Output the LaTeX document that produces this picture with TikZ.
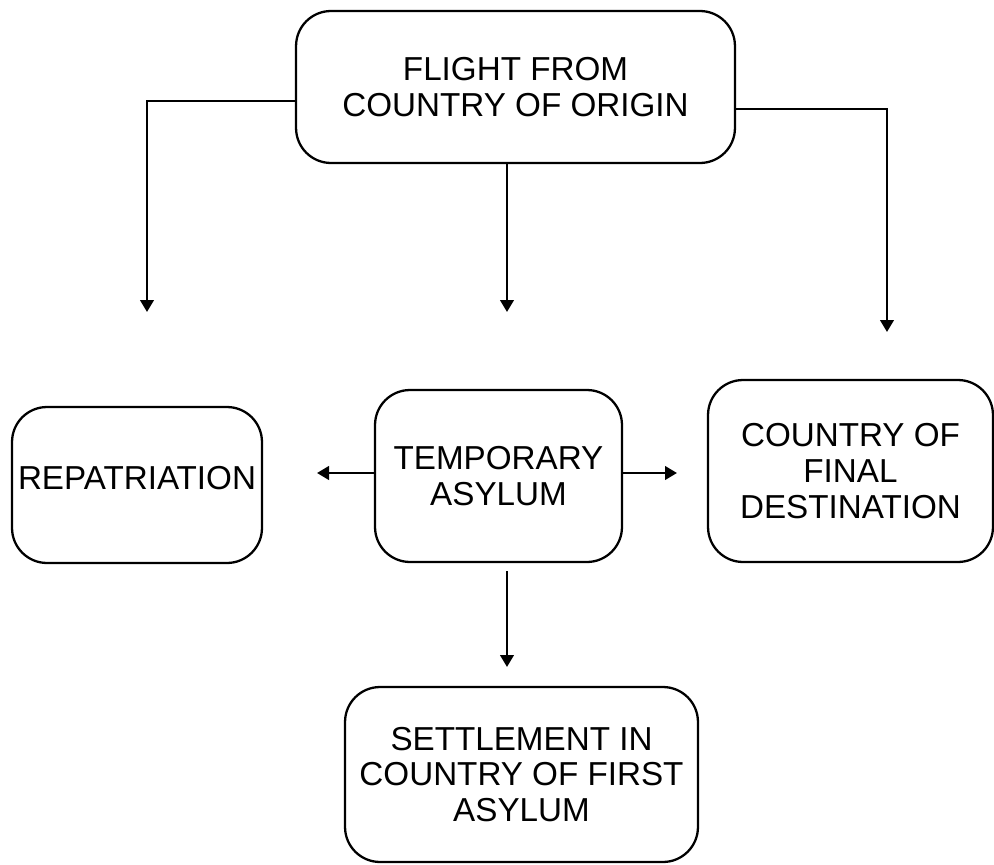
\documentclass[tikz,border=0pt]{standalone}
\usepackage{fontspec}
\setmainfont{Liberation Sans}
\usetikzlibrary{arrows.meta}

\begin{document}
\begin{tikzpicture}[x=0.02cm,y=-0.02cm,
    box/.style={draw, line width=1.3pt, rounded corners=0.7cm, align=center, inner sep=2pt,
        font=\fontsize{18.9}{20.3}\selectfont},
    arr/.style={line width=1.5pt, -{Triangle[length=0.24cm,width=0.27cm]}}]
    \useasboundingbox (0,0) rectangle (994,865);

    \node[box, minimum width=8.78cm, minimum height=3.04cm] (flight) at (515.5,87) {FLIGHT FROM\\COUNTRY OF ORIGIN};

    \node[box, minimum width=5cm, minimum height=3.12cm] (repat) at (137,485) {\raisebox{0.28cm}{REPATRIATION}};
    \node[box, minimum width=4.94cm, minimum height=3.44cm] (temp) at (498.5,476) {TEMPORARY\\ASYLUM};
    \node[box, minimum width=5.7cm, minimum height=3.64cm] (final) at (850.5,471) {COUNTRY OF\\FINAL\\DESTINATION};

    \node[box, minimum width=7.06cm, minimum height=3.5cm] (settle) at (521.5,774.5) {SETTLEMENT IN\\COUNTRY OF FIRST\\ASYLUM};

    % free ends of the arrows
    \coordinate (repin) at (147,312);
    \coordinate (tempin) at (507,312);
    \coordinate (finin) at (887,332);
    \coordinate (repout) at (317,473);
    \coordinate (finout) at (677,473);
    \coordinate (setin) at (507,667);

    \draw[arr] ([yshift=-0.28cm]flight.west) -| (repin);
    \draw[arr] (flight.south -| tempin) -- (tempin);
    \draw[arr] ([yshift=-0.44cm]flight.east) -| (finin);

    \draw[arr] (temp.west |- repout) -- (repout);
    \draw[arr] (temp.east |- finout) -- (finout);
    \draw[arr, shorten <=0.16cm] (temp.south -| setin) -- (setin);
\end{tikzpicture}
\end{document}
